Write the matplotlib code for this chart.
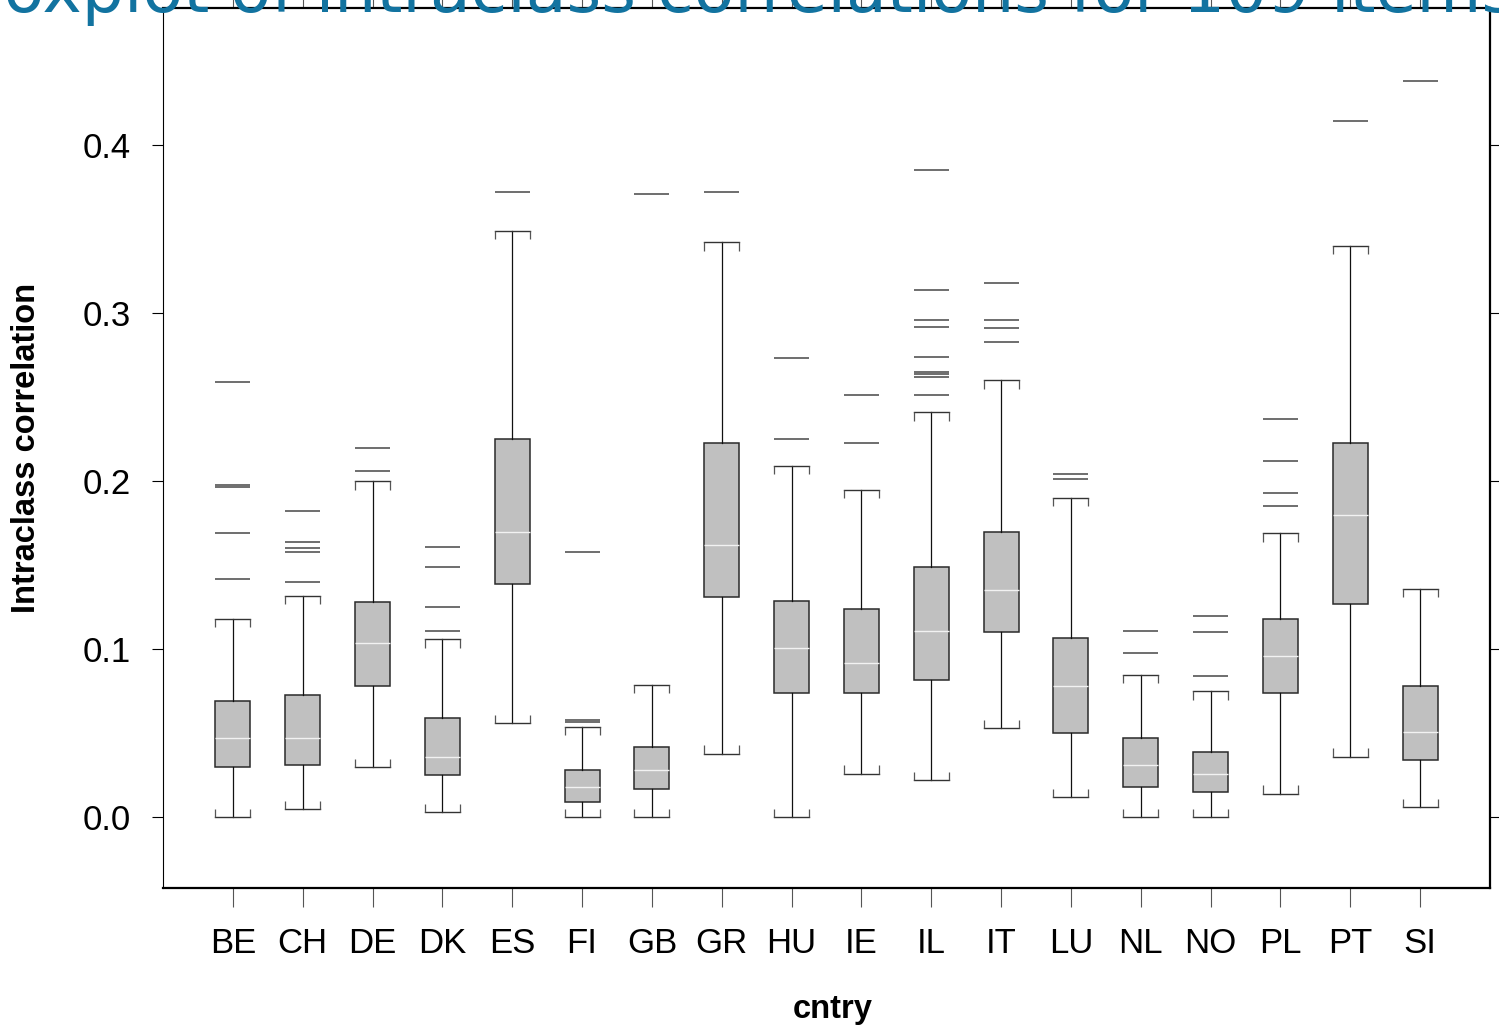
import matplotlib
matplotlib.use("Agg")
import matplotlib.pyplot as plt

# Intraclass correlations per country: five-number summary plus outlying items
countries = ["BE", "CH", "DE", "DK", "ES", "FI", "GB", "GR", "HU",
             "IE", "IL", "IT", "LU", "NL", "NO", "PL", "PT", "SI"]
whisker_low = [0.000, 0.005, 0.030, 0.003, 0.056, 0.000, 0.000, 0.038, 0.000,
               0.026, 0.022, 0.053, 0.012, 0.000, 0.000, 0.014, 0.036, 0.006]
q1 = [0.030, 0.031, 0.078, 0.025, 0.139, 0.009, 0.017, 0.131, 0.074,
      0.074, 0.082, 0.110, 0.050, 0.018, 0.015, 0.074, 0.127, 0.034]
median = [0.047, 0.047, 0.104, 0.036, 0.170, 0.018, 0.028, 0.162, 0.101,
          0.092, 0.111, 0.135, 0.078, 0.031, 0.026, 0.096, 0.180, 0.051]
q3 = [0.069, 0.073, 0.128, 0.059, 0.225, 0.028, 0.042, 0.223, 0.129,
      0.124, 0.149, 0.170, 0.107, 0.047, 0.039, 0.118, 0.223, 0.078]
whisker_high = [0.118, 0.132, 0.200, 0.106, 0.349, 0.054, 0.079, 0.342, 0.209,
                0.195, 0.241, 0.260, 0.190, 0.085, 0.075, 0.169, 0.340, 0.136]
outliers = [
    [0.259, 0.198, 0.1965, 0.169, 0.142],
    [0.182, 0.164, 0.160, 0.158, 0.140],
    [0.220, 0.206],
    [0.161, 0.149, 0.125, 0.111],
    [0.372],
    [0.158, 0.058, 0.0565],
    [0.371],
    [0.372],
    [0.273, 0.225],
    [0.251, 0.223],
    [0.385, 0.314, 0.296, 0.292, 0.274, 0.265, 0.2636, 0.262, 0.251],
    [0.318, 0.296, 0.291, 0.283],
    [0.204, 0.2015],
    [0.111, 0.098],
    [0.120, 0.110, 0.084],
    [0.237, 0.212, 0.193, 0.185],
    [0.414],
    [0.438],
]

BOX_FILL = "#c0c0c0"
BOX_EDGE = "#2a2a2a"
HALF = 0.25          # half box width in data units
END_TICK = 0.005     # length of the small bracket ends on the caps

fig = plt.figure(figsize=(14.99, 10.28), dpi=100)
ax = fig.add_axes([163 / 1499, 1 - 888 / 1028, (1490 - 163) / 1499, (888 - 8) / 1028])

positions = list(range(len(countries)))
stats = []
for i, c in enumerate(countries):
    stats.append(dict(label=c, whislo=whisker_low[i], q1=q1[i], med=median[i],
                      q3=q3[i], whishi=whisker_high[i], fliers=[]))

ax.bxp(stats, positions=positions, widths=2 * HALF, patch_artist=True,
       showfliers=False, capwidths=2 * HALF,
       boxprops=dict(facecolor=BOX_FILL, edgecolor=BOX_EDGE, linewidth=1.1),
       medianprops=dict(color="#f2f2f2", linewidth=1.0),
       whiskerprops=dict(color="#111111", linewidth=0.9),
       capprops=dict(color="#333333", linewidth=1.0))

# bracket ends on the whisker caps
for p, lo, hi in zip(positions, whisker_low, whisker_high):
    for x in (p - HALF, p + HALF):
        ax.vlines(x, hi - END_TICK, hi, color="#555555", linewidth=0.9)
        ax.vlines(x, lo, lo + END_TICK, color="#555555", linewidth=0.9)

# outlying items drawn as short horizontal dashes
for p, vals in zip(positions, outliers):
    ax.hlines(vals, p - HALF, p + HALF, color="#555555", linewidth=1.2)

ax.set_xlim(-1, len(countries))
ax.set_ylim(-0.042, 0.4815)
ax.set_yticks([0.0, 0.1, 0.2, 0.3, 0.4])
ax.set_yticklabels(["0.0", "0.1", "0.2", "0.3", "0.4"])
ax.set_xticks(positions)
ax.set_xticklabels(countries)

for side in ("top", "right", "bottom"):
    ax.spines[side].set_linewidth(1.6)
ax.spines["left"].set_linewidth(0.8)

ax.tick_params(axis="y", which="both", direction="out", length=8, width=0.8,
               left=True, right=True, labelright=False, labelsize=25, pad=15)
ax.tick_params(axis="x", which="both", direction="out", length=14, width=0.8,
               color="#555555", top=True, bottom=True, labelsize=25, pad=14)
for lbl in ax.get_xticklabels() + ax.get_yticklabels():
    lbl.set_fontfamily("Liberation Sans")

ax.set_xlabel("cntry", fontsize=23.5, fontweight="bold", family="Liberation Sans")
ax.xaxis.set_label_coords(0.5045, -0.12)
ax.set_ylabel("Intraclass correlation", fontsize=23.5, fontweight="bold",
              family="Liberation Sans")
ax.yaxis.set_label_coords(-0.0915, 0.5)

fig.text(-0.028, 1 - 12 / 1028, "Boxplot of intraclass correlations for 109 items",
         fontsize=48, color="#1273a0", ha="left", va="baseline",
         family="DejaVu Sans", zorder=5)

fig.savefig("out.png", dpi=100)
